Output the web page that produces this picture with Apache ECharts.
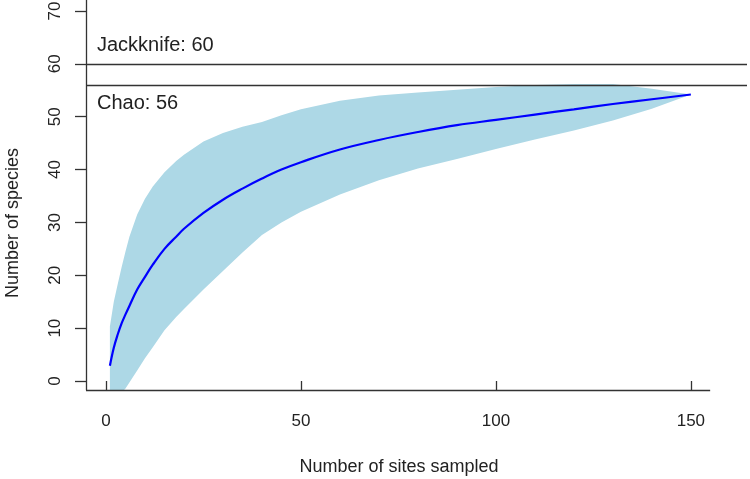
<!DOCTYPE html>
<html>
<head>
<meta charset="utf-8">
<script src="https://cdn.jsdelivr.net/npm/echarts@6/dist/echarts.min.js"></script>
<style>
  html, body { margin: 0; padding: 0; background: #fff; }
  #chart { width: 750px; height: 479px; }
</style>
</head>
<body>
<div id="chart"></div>
<script>
// species accumulation curve (mean and +/- 2 sd band)
const sites = [1, 2, 3, 4, 5, 6, 8, 10, 12, 15, 18, 20, 25, 30, 35, 40, 45, 50, 60, 70, 80, 90, 100, 110, 120, 130, 140, 150];
const richness = [2.9, 6.3, 8.8, 10.9, 12.6, 14.2, 17.3, 19.7, 22.0, 25.0, 27.3, 28.8, 31.8, 34.3, 36.4, 38.3, 40.0, 41.4, 43.8, 45.6, 47.1, 48.4, 49.4, 50.4, 51.4, 52.4, 53.3, 54.2];
const upper = [10.3, 15.0, 18.3, 21.5, 24.5, 27.3, 31.5, 34.5, 36.8, 39.5, 41.6, 42.8, 45.3, 46.9, 48.1, 49.0, 50.3, 51.4, 53.0, 54.0, 54.6, 55.1, 55.6, 56.0, 56.2, 56.2, 55.3, 54.2];
const lower = [-4.6, -3.8, -3.0, -2.2, -1.4, -0.3, 2.0, 4.3, 6.4, 9.6, 12.1, 13.6, 17.3, 20.8, 24.3, 27.6, 30.0, 32.0, 35.3, 38.0, 40.2, 42.0, 43.9, 45.7, 47.4, 49.3, 51.5, 54.2];

// estimators
const jackknife = 60;
const chao = 56;

// tick labels
const xTicks = [0, 50, 100, 150];
const yTicks = [0, 10, 20, 30, 40, 50, 60, 70];

const chart = echarts.init(document.getElementById('chart'));

const axisColor = '#333';
const textColor = '#222';
const xMin = -5.13, xMax = 164.4, xAxisEnd = 154.95;
const yMin = -1.70, yMax = 72.08;

const option = {
    animation: false,
    textStyle: { fontFamily: 'Liberation Sans, Arial, sans-serif' },
    grid: {
        left: 86,
        right: 3,
        top: 0,
        bottom: 89,
        outerBoundsMode: 'none'
    },
    xAxis: {
        type: 'value',
        min: xMin,
        max: xMax,
        name: 'Number of sites sampled',
        nameLocation: 'middle',
        nameGap: 68,
        nameTextStyle: { fontSize: 18, color: textColor, padding: [0, 35, 0, 0] },
        splitLine: { show: false },
        axisLine: { show: false },
        axisTick: { show: true, length: 10, customValues: xTicks, lineStyle: { color: axisColor, width: 1.3 } },
        axisLabel: { customValues: xTicks, margin: 23, fontSize: 17, color: textColor }
    },
    yAxis: {
        type: 'value',
        min: yMin,
        max: yMax,
        name: 'Number of species',
        nameLocation: 'middle',
        nameGap: 64,
        nameTextStyle: { fontSize: 18, color: textColor, padding: [0, 56, 0, 0] },
        splitLine: { show: false },
        axisLine: { show: true, onZero: false, lineStyle: { color: axisColor, width: 1.3 } },
        axisTick: { show: true, length: 11, customValues: yTicks, lineStyle: { color: axisColor, width: 1.3 } },
        axisLabel: { customValues: yTicks, rotate: 90, margin: 22, fontSize: 17, color: textColor }
    },
    series: [
        {
            name: 'band',
            type: 'custom',
            clip: true,
            silent: true,
            z: 1,
            data: [[sites[0], richness[0]]],
            renderItem: function (params, api) {
                const pts = [];
                for (let i = 0; i < sites.length; i++) pts.push(api.coord([sites[i], upper[i]]));
                for (let i = sites.length - 1; i >= 0; i--) pts.push(api.coord([sites[i], lower[i]]));
                return {
                    type: 'polygon',
                    shape: { points: pts },
                    style: { fill: '#ADD8E6', stroke: null }
                };
            }
        },
        {
            name: 'richness',
            type: 'line',
            z: 3,
            data: sites.map((s, i) => [s, richness[i]]),
            symbol: 'none',
            smooth: 0.4,
            lineStyle: { color: '#0000FF', width: 2.2 },
            markLine: {
                silent: true,
                symbol: 'none',
                animation: false,
                lineStyle: { color: axisColor, width: 1.3, type: 'solid' },
                label: { show: false },
                data: [
                    [
                        { coord: [xMin, jackknife], label: { show: true, position: 'insideStartTop', distance: [11, 8], fontSize: 20, color: textColor, formatter: 'Jackknife: ' + jackknife } },
                        { coord: [xMax, jackknife] }
                    ],
                    [
                        { coord: [xMin, chao], label: { show: true, position: 'insideStartBottom', distance: [11, 8], fontSize: 20, color: textColor, formatter: 'Chao: ' + chao } },
                        { coord: [xMax, chao] }
                    ],
                    // x axis line, ending short of the plot edge
                    [
                        { coord: [xMin, yMin] },
                        { coord: [xAxisEnd, yMin] }
                    ]
                ]
            }
        }
    ]
};

chart.setOption(option);

window.addEventListener('resize', () => {
    chart.resize();
});
</script>
</body>
</html>
